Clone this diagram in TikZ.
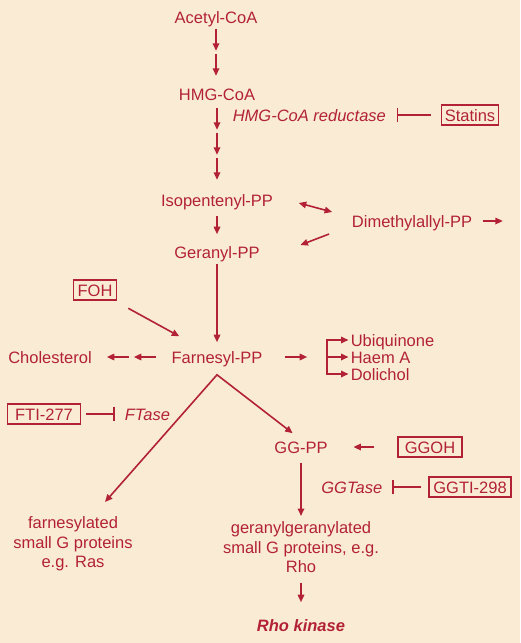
\documentclass[tikz,border=0pt]{standalone}
\usepackage{fontspec}
\setmainfont{Liberation Sans}
\usetikzlibrary{arrows.meta}

\definecolor{paper}{RGB}{250,236,212}
\definecolor{wine}{RGB}{178,34,52}

\begin{document}
\begin{tikzpicture}[%
        x = 1pt, y = -1pt,
        color = wine,
        line width = 1.6pt,
        > = {Triangle[length = 7.5pt, width = 6.5pt]},
        every node/.style = {font = \fontsize{16.5}{19.5}\selectfont, inner sep = 0pt},
        mol/.style = {text height = 13pt, text depth = 1pt},
        enzyme/.style = {mol, font = \fontsize{16.5}{19.5}\selectfont\itshape},
        drug/.style = {mol, draw = wine, line width = 1.1pt, inner xsep = 3pt, inner ysep = 3pt},
        inhib/.style = {-{Bar[width = 14pt]}},
        group/.style = {align = center, anchor = north}
    ]

        % Paper.
        \fill[paper] (0, 0) rectangle (520, 643);

        % Mevalonate pathway down to Farnesyl-PP.
        \node[mol] (acetyl) at (216, 17) {Acetyl-CoA};
        \node[mol] (hmg) at (217, 94) {HMG-CoA};
        \node[enzyme, anchor = west] (reductase) at (232, 115) {HMG-CoA reductase};
        \node[drug, minimum width = 56pt] (statins) at (470, 115) {Statins};
        \node[mol] (ipp) at (217, 200) {Isopentenyl-PP};
        \node[mol] (dmapp) at (412, 221) {Dimethylallyl-PP};
        \node[mol] (gpp) at (217, 252) {Geranyl-PP};
        \node[drug, minimum width = 43pt] (foh) at (95, 290) {FOH};
        \node[mol] (fpp) at (217, 357) {Farnesyl-PP};

        % Side products of Farnesyl-PP.
        \node[mol] (chol) at (50, 357) {Cholesterol};
        \node[mol, anchor = west] (ubiq) at (350, 340) {Ubiquinone};
        \node[mol, anchor = west] (haem) at (350, 357) {Haem A};
        \node[mol, anchor = west] (dolichol) at (350, 374) {Dolichol};

        % Prenylation.
        \node[drug, minimum width = 73pt] (fti) at (44, 414) {FTI-277};
        \node[enzyme, anchor = west] (ftase) at (124, 414) {FTase};
        \node[mol] (ggpp) at (301, 447) {GG-PP};
        \node[drug, minimum width = 64pt] (ggoh) at (430, 447) {GGOH};
        \node[enzyme, anchor = east] (ggtase) at (383, 487) {GGTase};
        \node[drug, minimum width = 82pt] (ggti) at (470, 487) {GGTI-298};
        \node[group] (farnesylated) at (73, 516) {farnesylated\\small G proteins\\e.g. Ras};
        \node[group] (gger) at (301, 521) {geranylgeranylated\\small G proteins, e.g.\\Rho};
        \node[mol, font = \fontsize{16.5}{19.5}\selectfont\bfseries\itshape] (rock) at (301, 625) {Rho kinase};

        % Steps of the pathway.
        \foreach \s in {4, 29}
            \draw[->] ([yshift = -\s pt]acetyl.south) -- ++(0, 22);
        \foreach \s in {6, 31, 56}
            \draw[->] ([yshift = -\s pt]hmg.south) -- ++(0, 22);
        \draw[->, shorten <= 8pt, shorten >= 10pt] (ipp) -- (gpp);
        \draw[->, shorten <= 4pt, shorten >= 7pt] (gpp) -- (fpp);
        \draw[<->] ([shift = {(25, 3)}]ipp.east) -- ([shift = {(-19, -9)}]dmapp.west);
        \draw[->] ([shift = {(-22, 13)}]dmapp.west) -- ([shift = {(40, -7)}]gpp.east);
        \draw[->] ([xshift = 10pt]dmapp.east) -- ++(20, 0);
        \draw[->, shorten <= 38pt, shorten >= 43pt] (foh.center) -- (fpp.center);

        % Inhibitors.
        \draw[inhib, shorten <= 10pt, shorten >= 10pt] (statins) -- (reductase);
        \draw[inhib, shorten <= 5pt, shorten >= 9pt] (fti) -- (ftase);
        \draw[inhib, shorten <= 7pt, shorten >= 9pt] (ggti) -- (ggtase);

        % Farnesyl-PP to the side products.
        \foreach \s in {15, 42}
            \draw[->] ([xshift = -\s pt]fpp.west) -- ++(-22, 0);
        \draw[->] ([xshift = 22pt]fpp.east) -- ++(22, 0);
        \coordinate (fork) at ([xshift = -23pt]ubiq.west);
        \draw[<->, shorten <= 1.5pt, shorten >= 1.5pt]
            (ubiq.west) -- (fork) -- (fork |- dolichol.west) -- (dolichol.west);
        \draw[->, shorten >= 1.5pt] (fork |- haem.west) -- (haem.west);

        % Branches to the prenylated proteins.
        \coordinate (apex) at ([yshift = -10pt]fpp.south);
        \coordinate (fend) at (105, 502);
        \draw[<->] (fend) -- (apex) -- ([shift = {(19, -6)}]ggpp.north west);
        \draw[->, shorten <= 23pt, shorten >= 25pt] (ggoh) -- (ggpp);
        \draw[->, shorten <= 8pt, shorten >= 5pt] (ggpp) -- (gger);
        \draw[->, shorten <= 9pt, shorten >= 15pt] (gger) -- (rock);
    \end{tikzpicture}
\end{document}
